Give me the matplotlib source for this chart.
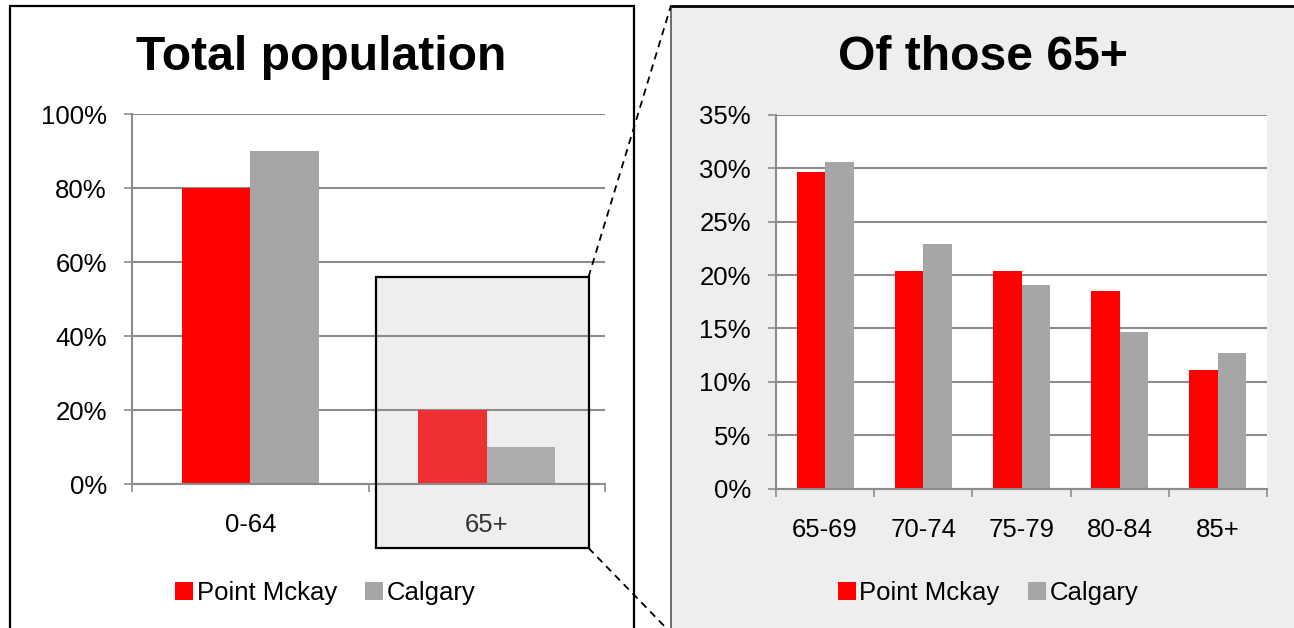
import numpy as np
import matplotlib
matplotlib.use("Agg")
from matplotlib import pyplot as plt
from matplotlib.patches import Rectangle
from matplotlib.lines import Line2D
from matplotlib.ticker import PercentFormatter

plt.rcParams['font.family'] = ['Liberation Sans', 'DejaVu Sans']

# data
totalGroups = ["0-64", "65+"]
totalPointMckay = [80, 20]
totalCalgary = [90, 10]

oldGroups = ["65-69", "70-74", "75-79", "80-84", "85+"]
oldPointMckay = [29.7, 20.4, 20.4, 18.5, 11.1]
oldCalgary = [30.6, 22.9, 19.1, 14.7, 12.7]

seriesNames = ["Point Mckay", "Calgary"]
red = "#FF0000"
grey = "#A6A6A6"
gridGrey = "#8C8C8C"
fs = 18.5

W, H = 1294, 628
fig = plt.figure(figsize=(W / 100, H / 100), dpi=100)


def px(x, y):
    return (x / W, 1 - y / H)


def rect(x0, y0, x1, y1, **kw):
    (fx0, fy1) = px(x0, y1)
    (fx1, fy0) = px(x1, y0)
    r = Rectangle((fx0, fy1), fx1 - fx0, fy0 - fy1, transform=fig.transFigure, **kw)
    fig.add_artist(r)
    return r


# panel backgrounds
rect(9.5, 5.5, 634, 640, facecolor="white", edgecolor="black", linewidth=1.6, zorder=-3)
rect(671, 5.5, 1300, 640, facecolor="#EEEEEE", edgecolor="none", zorder=-3)
fig.add_artist(Line2D([px(671, 0)[0], px(1300, 0)[0]], [px(0, 5.5)[1]] * 2,
                      transform=fig.transFigure, color="black", linewidth=2, zorder=-2))
fig.add_artist(Line2D([px(671, 0)[0]] * 2, [px(0, 5.5)[1], px(0, 640)[1]],
                      transform=fig.transFigure, color="#555555", linewidth=1.2, zorder=-2))

# highlight box around 65+ (fill behind, edge on top)
rect(376, 277, 588.5, 548, facecolor="#EEEEEE", edgecolor="none", zorder=-1)
rect(376, 277, 588.5, 548, facecolor="none", edgecolor="black", linewidth=1.6, zorder=5)

# dashed zoom lines
for (a, b) in [((588.5, 277), (671, 5.5)), ((588.5, 548), (671, 633))]:
    fig.add_artist(Line2D([px(*a)[0], px(*b)[0]], [px(*a)[1], px(*b)[1]],
                          transform=fig.transFigure, color="black", linewidth=1.3,
                          linestyle=(0, (4, 3)), zorder=6))


def style_axes(ax, n, ymax, ystep, face):
    ax.set_xlim(-0.5, n - 0.5)
    ax.set_ylim(0, ymax)
    ax.set_yticks(np.arange(0, ymax + 0.01, ystep))
    ax.yaxis.set_major_formatter(PercentFormatter(decimals=0))
    ax.set_xticks(np.arange(-0.5, n, 1.0))
    ax.set_xticklabels([])
    ax.set_xticks(np.arange(n), minor=True)
    ax.grid(axis="y", color=gridGrey, linewidth=1.5)
    ax.set_axisbelow(True)
    for s in ["top", "right"]:
        ax.spines[s].set_visible(False)
    for s in ["left", "bottom"]:
        ax.spines[s].set_color(gridGrey)
        ax.spines[s].set_linewidth(1.5)
    ax.tick_params(axis="y", length=6, width=1.2, color=gridGrey, labelsize=fs, pad=12)
    ax.tick_params(axis="x", which="major", length=6, width=1.2, color=gridGrey, direction="out")
    ax.tick_params(axis="x", which="minor", length=0, labelsize=fs, pad=21)
    ax.set_facecolor(face)


bw = 0.29

# left: total population
axL = fig.add_axes([132 / W, 1 - 484 / H, (605 - 132) / W, (484 - 114) / H])
x = np.arange(len(totalGroups))
barsR = axL.bar(x - bw / 2, totalPointMckay, bw, color=red, label=seriesNames[0], zorder=2)
barsG = axL.bar(x + bw / 2, totalCalgary, bw, color=grey, label=seriesNames[1], zorder=2)
barsR[1].set_facecolor("#EE3033")
barsG[1].set_facecolor("#ADADAD")
style_axes(axL, len(totalGroups), 100, 20, "none")
axL.set_xticklabels(totalGroups, minor=True)
axL.get_xticklabels(minor=True)[1].set_color("#333333")

# right: of those 65+
axR = fig.add_axes([776 / W, 1 - 488.5 / H, (1267 - 776) / W, (488.5 - 115) / H])
x = np.arange(len(oldGroups))
axR.bar(x - bw / 2, oldPointMckay, bw, color=red, label=seriesNames[0], zorder=2)
axR.bar(x + bw / 2, oldCalgary, bw, color=grey, label=seriesNames[1], zorder=2)
style_axes(axR, len(oldGroups), 35, 5, "white")
axR.set_xticklabels(oldGroups, minor=True)

# titles
fig.text(*px(321.5, 57), "Total population", ha="center", va="center",
         fontsize=34.6, fontweight="bold")
fig.text(*px(983, 57), "Of those 65+", ha="center", va="center",
         fontsize=34.6, fontweight="bold")

# legends
for ax, cx in [(axL, 325.5), (axR, 988)]:
    h, l = ax.get_legend_handles_labels()
    h = [Rectangle((0, 0), 1, 1, facecolor=c) for c in (red, grey)]
    fig.legend(h, l, loc="center", bbox_to_anchor=px(cx, 593), ncol=2, frameon=False,
               fontsize=fs, handlelength=0.7, handleheight=0.7, handletextpad=0.15,
               columnspacing=1.1, borderpad=0)

fig.savefig("out.png", dpi=100)
